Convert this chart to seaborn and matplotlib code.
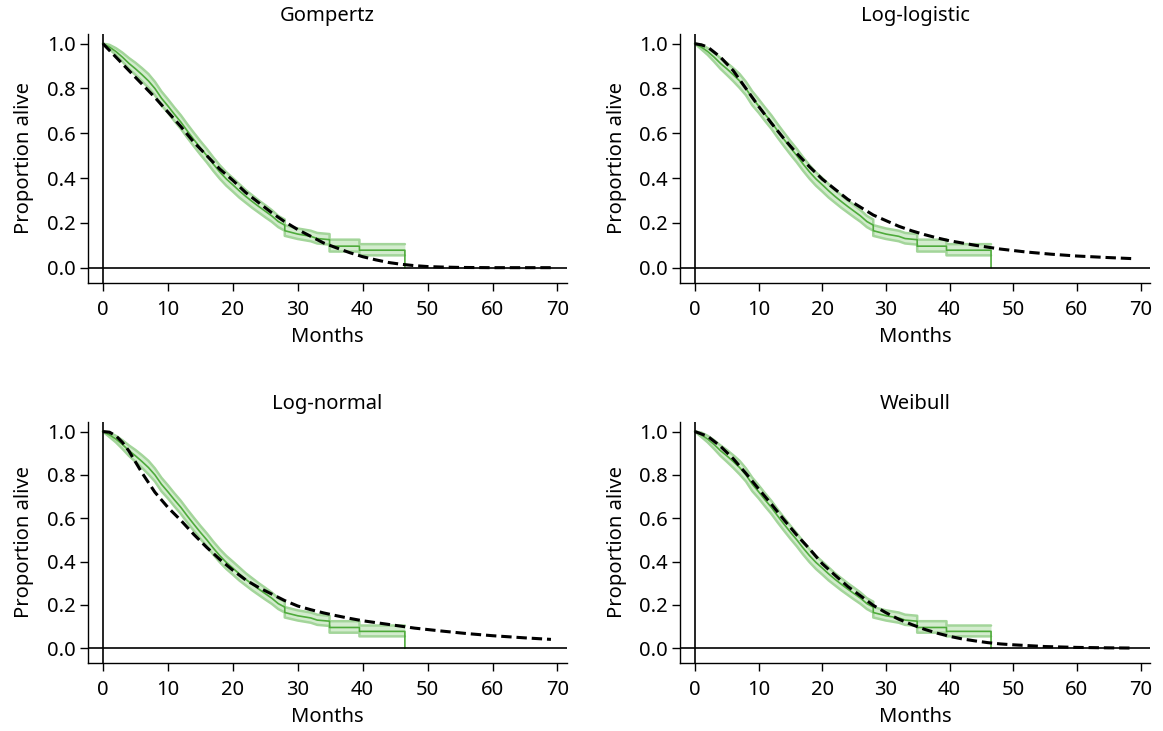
import numpy as np
import pandas as pd
import matplotlib
matplotlib.use("Agg")
import matplotlib.pyplot as plt
import seaborn as sns

# Kaplan-Meier estimate with explicit step points in the sparse tail
km_time = [0, 1, 2, 3, 4, 5, 6, 7, 8, 9, 10, 11, 12, 13, 14, 15, 16, 17, 18, 19,
           20, 21, 22, 23, 24, 25, 26, 27, 28, 28, 30, 32, 33, 34.9, 34.9, 39.5,
           39.5, 46.5, 46.5]
km_surv = [1.0, 0.985, 0.965, 0.94, 0.912, 0.888, 0.862, 0.834, 0.80, 0.757, 0.722,
           0.685, 0.65, 0.61, 0.572, 0.535, 0.50, 0.462, 0.427, 0.396, 0.37, 0.343,
           0.318, 0.295, 0.273, 0.252, 0.231, 0.206, 0.19, 0.165, 0.15, 0.14, 0.13,
           0.125, 0.096, 0.096, 0.078, 0.078, 0.0]
km_lower = [1.0, 0.975, 0.95, 0.92, 0.888, 0.861, 0.833, 0.803, 0.77, 0.725, 0.692,
            0.655, 0.62, 0.58, 0.542, 0.505, 0.47, 0.432, 0.397, 0.366, 0.34, 0.313,
            0.29, 0.267, 0.246, 0.225, 0.205, 0.181, 0.165, 0.142, 0.128, 0.118,
            0.108, 0.103, 0.072, 0.072, 0.055, 0.055, 0.055]
km_upper = [1.0, 0.995, 0.98, 0.96, 0.936, 0.915, 0.891, 0.865, 0.83, 0.787, 0.752,
            0.715, 0.68, 0.64, 0.602, 0.565, 0.53, 0.492, 0.457, 0.426, 0.40, 0.373,
            0.346, 0.323, 0.300, 0.279, 0.257, 0.231, 0.215, 0.19, 0.175, 0.165,
            0.155, 0.15, 0.125, 0.125, 0.105, 0.105, 0.105]

# Fitted parametric survival curves
gompertz_time = [0, 2, 4, 6, 8, 10, 12, 14, 16, 18, 20, 22, 24, 26, 28, 30, 32, 34,
                 36, 38, 40, 42, 44, 46, 48, 50, 52, 55, 60, 65, 69]
gompertz_surv = [1.0, 0.94, 0.88, 0.82, 0.76, 0.695, 0.63, 0.56, 0.50, 0.44, 0.39,
                 0.335, 0.29, 0.245, 0.205, 0.17, 0.14, 0.11, 0.088, 0.067, 0.049,
                 0.035, 0.023, 0.015, 0.009, 0.005, 0.003, 0.001, 0.0, 0.0, 0.0]

loglogistic_time = [0, 1, 2, 4, 6, 8, 10, 12, 14, 16, 18, 20, 22, 24, 26, 28, 30,
                    32, 34, 36, 38, 40, 44, 48, 52, 56, 60, 65, 69]
loglogistic_surv = [1.0, 0.995, 0.985, 0.94, 0.88, 0.80, 0.72, 0.645, 0.575, 0.51,
                    0.45, 0.395, 0.35, 0.305, 0.27, 0.235, 0.21, 0.185, 0.165,
                    0.148, 0.133, 0.12, 0.10, 0.083, 0.07, 0.06, 0.052, 0.045, 0.04]

lognormal_time = [0, 1, 2, 3, 4, 5, 6, 8, 10, 12, 14, 16, 18, 20, 22, 24, 26, 28,
                  30, 32, 34, 36, 38, 40, 44, 48, 52, 56, 60, 65, 69]
lognormal_surv = [1.0, 0.997, 0.98, 0.95, 0.91, 0.86, 0.81, 0.72, 0.65, 0.59,
                  0.525, 0.465, 0.41, 0.36, 0.315, 0.28, 0.25, 0.22, 0.195, 0.178,
                  0.163, 0.15, 0.138, 0.127, 0.11, 0.093, 0.08, 0.068, 0.058,
                  0.048, 0.041]

weibull_time = [0, 2, 4, 6, 8, 10, 12, 14, 16, 18, 20, 22, 24, 26, 28, 30, 32, 34,
                36, 38, 40, 42, 44, 46, 48, 50, 55, 60, 65, 69]
weibull_surv = [1.0, 0.978, 0.932, 0.875, 0.807, 0.735, 0.665, 0.592, 0.522, 0.458,
                0.39, 0.337, 0.285, 0.242, 0.198, 0.164, 0.134, 0.11, 0.088, 0.07,
                0.055, 0.043, 0.034, 0.026, 0.02, 0.016, 0.008, 0.004, 0.002, 0.001]

model_names = ["Gompertz", "Log-logistic", "Log-normal", "Weibull"]
model_curves = [(gompertz_time, gompertz_surv), (loglogistic_time, loglogistic_surv),
                (lognormal_time, lognormal_surv), (weibull_time, weibull_surv)]

x_ticks = [0, 10, 20, 30, 40, 50, 60, 70]
y_ticks = [0.0, 0.2, 0.4, 0.6, 0.8, 1.0]

sns.set_style("ticks")
plt.rcParams["font.family"] = ["Noto Sans", "DejaVu Sans"]
plt.rcParams["text.color"] = "black"
plt.rcParams["axes.labelcolor"] = "black"
plt.rcParams["xtick.color"] = "black"
plt.rcParams["ytick.color"] = "black"

FS = 14.5
KM_GREEN = "#4fab3c"
BAND_FILL = "#d3ecce"
BAND_EDGE = "#a3d59a"

km = pd.DataFrame({"Months": km_time, "Survival": km_surv,
                   "Lower": km_lower, "Upper": km_upper})

fig = plt.figure(figsize=(11.63, 7.31), dpi=100)
positions = [
    [0.0757, 0.613, 0.412, 0.341],
    [0.585, 0.613, 0.404, 0.341],
    [0.0757, 0.093, 0.412, 0.330],
    [0.585, 0.093, 0.404, 0.330],
]

for pos, name, (mt, ms) in zip(positions, model_names, model_curves):
    ax = fig.add_axes(pos)
    ax.fill_between(km["Months"], km["Lower"], km["Upper"], color=BAND_FILL,
                    linewidth=0, zorder=1)
    sns.lineplot(data=km, x="Months", y="Lower", ax=ax, estimator=None, sort=False,
                 color=BAND_EDGE, linewidth=1.8, zorder=2)
    sns.lineplot(data=km, x="Months", y="Upper", ax=ax, estimator=None, sort=False,
                 color=BAND_EDGE, linewidth=1.8, zorder=2)
    sns.lineplot(data=km, x="Months", y="Survival", ax=ax, estimator=None,
                 sort=False, color=KM_GREEN, linewidth=1.2, zorder=3)
    model = pd.DataFrame({"Months": mt, "Survival": ms})
    sns.lineplot(data=model, x="Months", y="Survival", ax=ax, estimator=None,
                 color="black", linewidth=2.2, zorder=4)
    ax.lines[-1].set_dashes((3.4, 1.6))

    ax.axvline(0, color="black", linewidth=1.2, zorder=5)
    ax.axhline(0, color="black", linewidth=1.2, zorder=5)

    ax.set_xlim(-2.3, 71.5)
    ax.set_ylim(-0.068, 1.045)
    ax.set_xticks(x_ticks)
    ax.set_yticks(y_ticks)
    ax.set_yticklabels([f"{v:.1f}" for v in y_ticks])
    ax.set_xlabel("Months", fontsize=FS, labelpad=5)
    ax.set_ylabel("Proportion alive", fontsize=FS, labelpad=9)
    ax.set_title(name, fontsize=FS, pad=9)
    ax.tick_params(axis="both", direction="out", length=6, width=1,
                   labelsize=FS, color="black")
    ax.tick_params(axis="x", pad=6)
    ax.tick_params(axis="y", pad=3)
    for side in ["top", "right"]:
        ax.spines[side].set_visible(False)
    for side in ["left", "bottom"]:
        ax.spines[side].set_linewidth(1)
        ax.spines[side].set_color("black")

fig.savefig("out.png", dpi=100)
